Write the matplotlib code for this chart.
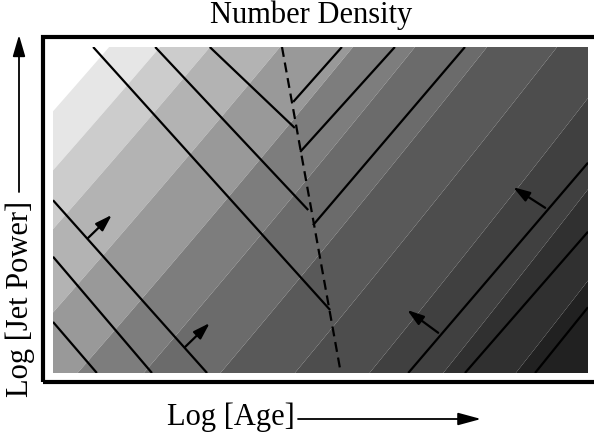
import numpy as np
import matplotlib
matplotlib.use("Agg")
import matplotlib.pyplot as plt
from matplotlib.patches import Rectangle, FancyArrowPatch

plt.rcParams['font.family'] = ['Liberation Serif', 'DejaVu Serif']

# ---- data (schematic, arbitrary log units) ----
age_range = (0.0, 10.0)
power_range = (0.0, 6.0)

# number-density field: bands of constant density (levels & gray shades)
density_levels = [-4.30, -3.33, -2.365, -0.994, 0.46, 1.715, 3.195, 4.657, 6.15, 7.65, 9.15, 11.0]
band_grays = [0.90, 0.80, 0.70, 0.60, 0.49, 0.42, 0.35, 0.30, 0.25, 0.19, 0.13]
field_curv = 0.00668
field_c = 1.12

# evolutionary tracks: (age0, power0, age1, power1)
tracks_down = [
    (0.75, 6.00, 5.18, 1.16),
    (1.91, 6.00, 4.77, 3.00),
    (2.93, 6.00, 4.52, 4.51),
    (0.00, 3.18, 2.88, 0.00),
    (0.00, 2.14, 1.85, 0.00),
    (0.00, 0.94, 0.82, 0.00),
]
tracks_up = [
    (4.49, 4.99, 5.40, 6.00),
    (4.62, 4.07, 6.39, 6.00),
    (4.86, 2.72, 7.70, 6.00),
    (6.64, 0.00, 10.0, 3.87),
    (7.70, 0.00, 10.0, 2.60),
    (9.01, 0.00, 10.0, 1.21),
]
dashed_age = [4.28, 5.38]
dashed_power = [6.0, 0.0]

# arrows: (tail_age, tail_power, head_age, head_power)
arrows = [
    (0.65, 2.48, 1.10, 2.91),
    (2.47, 0.48, 2.93, 0.92),
    (7.20, 0.74, 6.62, 1.16),
    (9.20, 3.04, 8.60, 3.42),
]

title = "Number Density"
xlabel = "Log [Age]"
ylabel = "Log [Jet Power]"

# ---- figure ----
W, H = 594, 432
fig = plt.figure(figsize=(W / 100, H / 100), dpi=100)

ax = fig.add_axes([53 / W, (H - 373) / H, 535 / W, 326 / H])
ax.set_xlim(*age_range)
ax.set_ylim(*power_range)
ax.axis('off')

xg = np.linspace(age_range[0], age_range[1], 600)
yg = np.linspace(power_range[0], power_range[1], 400)
X, Y = np.meshgrid(xg, yg)
F = X + field_curv * X ** 2 - Y / field_c
ax.contourf(X, Y, F, levels=density_levels,
            colors=[str(g) for g in band_grays], antialiased=True)

for (x0, y0, x1, y1) in tracks_down + tracks_up:
    ax.plot([x0, x1], [y0, y1], color='black', lw=1.6, solid_capstyle='butt')

ax.plot(dashed_age, dashed_power, color='black', lw=1.6,
        linestyle=(0, (4.5, 2.6)))

for (x0, y0, x1, y1) in arrows:
    ax.annotate('', xy=(x1, y1), xytext=(x0, y0),
                arrowprops=dict(arrowstyle='-|>,head_length=1.0,head_width=0.32',
                                mutation_scale=10, lw=1.6, color='black',
                                shrinkA=0, shrinkB=0))

# thick outer frame
fig.add_artist(Rectangle((43 / W, 50 / H), (600 - 43) / W, 345 / H,
                         transform=fig.transFigure, fill=False,
                         lw=3.0, edgecolor='black', clip_on=False))

fs = 22
fig.text(311 / W, (H - 23) / H, title, ha='center', va='baseline', fontsize=fs)
fig.text(231 / W, (H - 425) / H, xlabel, ha='center', va='baseline', fontsize=fs)
fig.text(20 / W, (H - 299) / H, ylabel, ha='center', va='center',
         rotation=90, fontsize=fs)

fig.add_artist(FancyArrowPatch(
    (298 / W, (H - 419) / H), (481 / W, (H - 419) / H),
    transform=fig.transFigure, arrowstyle='-|>,head_length=1.4,head_width=0.38',
    mutation_scale=10, lw=1.3, color='black', shrinkA=0, shrinkB=0))
fig.add_artist(FancyArrowPatch(
    (19 / W, (H - 192) / H), (19 / W, (H - 35) / H),
    transform=fig.transFigure, arrowstyle='-|>,head_length=1.3,head_width=0.38',
    mutation_scale=10, lw=1.3, color='black', shrinkA=0, shrinkB=0))

fig.savefig('out.png', dpi=100)
